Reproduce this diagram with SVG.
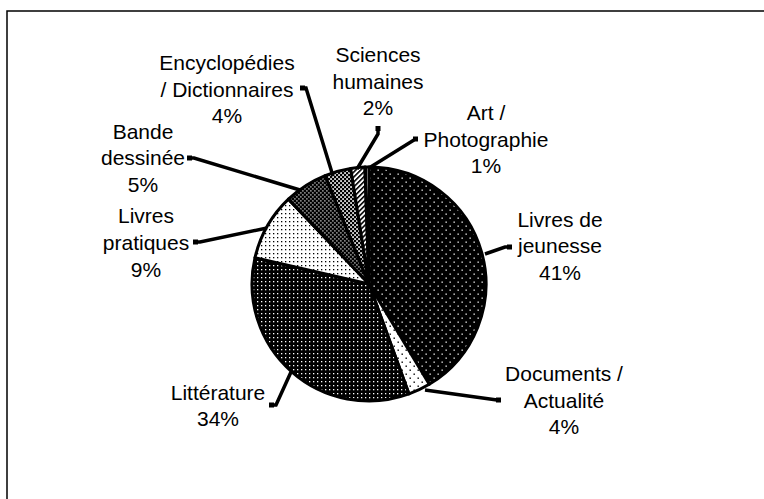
<svg xmlns="http://www.w3.org/2000/svg" width="764" height="499" viewBox="0 0 764 499">
<defs>
<style>
.lbl{font-family:"Liberation Sans",Arial,sans-serif;font-size:21px;fill:#000;text-anchor:middle}
.slice{stroke:#000;stroke-width:3;stroke-linejoin:round}
.lead{fill:none;stroke:#000;stroke-width:3.5;stroke-linejoin:miter}
.mk{fill:#000}
</style>
<pattern id="pJeun" width="8" height="8" patternUnits="userSpaceOnUse">
<rect width="8" height="8" fill="#000"/>
<rect x="1.5" y="1.5" width="1.3" height="1.3" fill="#fff"/>
<rect x="5.5" y="5.5" width="1.3" height="1.3" fill="#fff"/>
</pattern>
<pattern id="pDoc" width="8" height="8" patternUnits="userSpaceOnUse">
<rect width="8" height="8" fill="#fff"/>
<rect x="1.5" y="1.5" width="1.4" height="1.4" fill="#000"/>
<rect x="5.5" y="5.5" width="1.4" height="1.4" fill="#000"/>
</pattern>
<pattern id="pLitt" width="4" height="4" patternUnits="userSpaceOnUse">
<rect width="4" height="4" fill="#000"/>
<rect x="1" y="1" width="1.3" height="1.3" fill="#fff"/>
</pattern>
<pattern id="pPrat" width="4" height="4" patternUnits="userSpaceOnUse">
<rect width="4" height="4" fill="#fff"/>
<rect x="1" y="1" width="1.3" height="1.3" fill="#000"/>
</pattern>
<pattern id="pBD" width="4" height="4" patternUnits="userSpaceOnUse">
<rect width="4" height="4" fill="#000"/>
<rect x="0.3" y="0.3" width="1.2" height="1.2" fill="#fff"/>
<rect x="2.3" y="2.3" width="1.2" height="1.2" fill="#fff"/>
</pattern>
<pattern id="pEnc" width="4" height="4" patternUnits="userSpaceOnUse">
<rect width="4" height="4" fill="#000"/>
<rect x="0.2" y="0.2" width="1.7" height="1.7" fill="#fff"/>
<rect x="2.2" y="2.2" width="1.7" height="1.7" fill="#fff"/>
</pattern>
<pattern id="pSci" width="3.5" height="3.5" patternUnits="userSpaceOnUse" patternTransform="rotate(-45)">
<rect width="3.5" height="3.5" fill="#fff"/>
<rect width="3.5" height="1.6" fill="#000"/>
</pattern>
<pattern id="pArt" width="3" height="3" patternUnits="userSpaceOnUse">
<rect width="3" height="3" fill="#fff"/>
<rect width="1.2" height="3" fill="#000"/>
</pattern>
</defs>
<rect width="764" height="499" fill="#fff"/>
<rect x="7" y="11" width="800" height="600" fill="none" stroke="#000" stroke-width="1.5"/>

<g id="pie">
<g id="slice-jeunesse"><path class="slice" fill="url(#pJeun)" d="M369,284 L369,167 A117,117 0 0 1 429.26,384.29 Z"/></g>
<g id="slice-documents"><path class="slice" fill="url(#pDoc)" d="M369,284 L429.26,384.29 A117,117 0 0 1 409.01,393.94 Z"/></g>
<g id="slice-litterature"><path class="slice" fill="url(#pLitt)" d="M369,284 L409.01,393.94 A117,117 0 0 1 255,257.67 Z"/></g>
<g id="slice-pratiques"><path class="slice" fill="url(#pPrat)" d="M369,284 L255,257.67 A117,117 0 0 1 288.46,199.13 Z"/></g>
<g id="slice-bd"><path class="slice" fill="url(#pBD)" d="M369,284 L288.46,199.13 A117,117 0 0 1 325.17,175.52 Z"/></g>
<g id="slice-encyclopedies"><path class="slice" fill="url(#pEnc)" d="M369,284 L325.17,175.52 A117,117 0 0 1 350.7,168.44 Z"/></g>
<g id="slice-sciences"><path class="slice" fill="url(#pSci)" d="M369,284 L350.7,168.44 A117,117 0 0 1 364.92,167.07 Z"/></g>
<g id="slice-art"><path class="slice" fill="url(#pArt)" d="M369,284 L364.92,167.07 A117,117 0 0 1 369,167 Z"/></g>
</g>

<g id="connectors">
<polyline class="lead" points="508,247 505,247 485,254"/>
<rect class="mk" x="507" y="244.5" width="5" height="5"/>
<polyline class="lead" points="425,390 497,400"/>
<rect class="mk" x="496" y="397.5" width="5" height="5"/>
<polyline class="lead" points="273,405 276,405 291,372"/>
<rect class="mk" x="269" y="402.5" width="5" height="5"/>
<polyline class="lead" points="197,242 200,242 267,228"/>
<rect class="mk" x="193" y="239.5" width="5" height="5"/>
<polyline class="lead" points="191,158 194,158 300,190"/>
<rect class="mk" x="187" y="155.5" width="5" height="5"/>
<polyline class="lead" points="304,88 306,88 333,176"/>
<rect class="mk" x="300" y="85.5" width="5" height="5"/>
<polyline class="lead" points="378,130 378,134 357,169"/>
<rect class="mk" x="375.5" y="126" width="5" height="5"/>
<polyline class="lead" points="414,140 369,168"/>
<rect class="mk" x="413" y="136.5" width="5" height="5"/>
</g>

<g id="label-jeunesse"><text class="lbl" x="560" y="226.5">Livres de</text><text class="lbl" x="560" y="253">jeunesse</text><text class="lbl" x="560" y="279.5">41%</text></g>
<g id="label-documents"><text class="lbl" x="564" y="381">Documents /</text><text class="lbl" x="564" y="407.5">Actualité</text><text class="lbl" x="564" y="434">4%</text></g>
<g id="label-litterature"><text class="lbl" x="218" y="399.5">Littérature</text><text class="lbl" x="218" y="426">34%</text></g>
<g id="label-pratiques"><text class="lbl" x="146" y="223">Livres</text><text class="lbl" x="146" y="250">pratiques</text><text class="lbl" x="146" y="276.5">9%</text></g>
<g id="label-bd"><text class="lbl" x="143" y="138.5">Bande</text><text class="lbl" x="143" y="165">dessinée</text><text class="lbl" x="143" y="191.5">5%</text></g>
<g id="label-encyclopedies"><text class="lbl" x="227" y="70">Encyclopédies</text><text class="lbl" x="227" y="96.5">/ Dictionnaires</text><text class="lbl" x="227" y="123">4%</text></g>
<g id="label-sciences"><text class="lbl" x="378" y="62">Sciences</text><text class="lbl" x="378" y="88.5">humaines</text><text class="lbl" x="378" y="115">2%</text></g>
<g id="label-art"><text class="lbl" x="486" y="120">Art /</text><text class="lbl" x="486" y="146.5">Photographie</text><text class="lbl" x="486" y="173">1%</text></g>
</svg>
